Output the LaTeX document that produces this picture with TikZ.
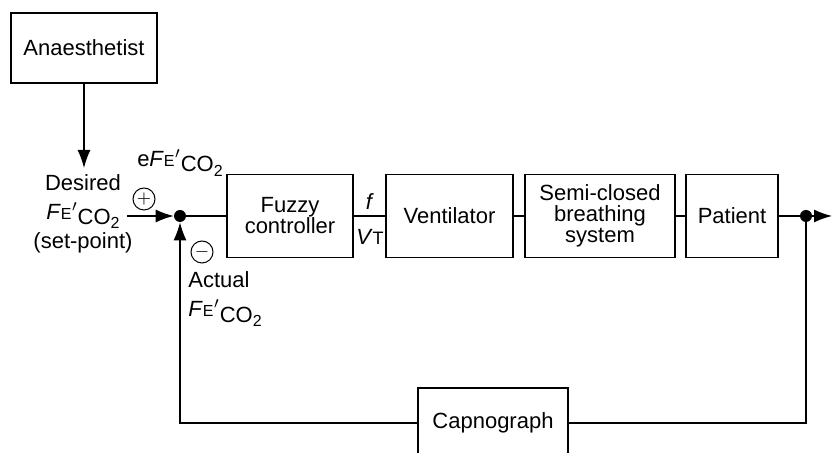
\documentclass[tikz,border=0pt]{standalone}
\usepackage{fontspec}
\setmainfont{Liberation Sans}
\usetikzlibrary{arrows.meta,positioning}
\newcommand{\FEco}{\textit{F}{\footnotesize E}\kern0.3pt$'$\raisebox{-0.45ex}{CO\raisebox{-0.35ex}{\footnotesize 2}}}

\begin{document}
\begin{tikzpicture}[
    x=0.5pt, y=-0.5pt,
    blk/.style={draw, line width=0.6pt, minimum height=41.5pt, align=center, inner sep=2pt, font=\fontsize{11}{10.5}\selectfont},
    arr/.style={-{Latex[length=9pt,width=6.5pt]}, line width=0.6pt},
    ln/.style={line width=0.6pt},
    sgn/.style={circle, draw, line width=0.5pt, minimum size=11pt, inner sep=0pt, font=\small},
    jdot/.style={circle, fill, minimum size=6pt, inner sep=0pt},
    lbl/.style={align=center, inner sep=1pt, font=\fontsize{11}{14.5}\selectfont}
]
    \clip (0,0) rectangle (832,453);
    \useasboundingbox (0,0) rectangle (832,453);
    \node[blk, minimum width=73pt, minimum height=35pt] (ana) at (84,48) {Anaesthetist};
    \node[lbl] (des) at (83,214) {Desired\\\FEco\\(set-point)};
    \node[jdot] (sum) at (180,216) {};
    \node[sgn] (plus) at (144,199) {$+$};
    \node[sgn] (minus) at (202,252) {$-$};
    \node[lbl] (err) at (180,163) {e\FEco};
    \node[blk, minimum width=63pt] (fuz) at (290,216) {Fuzzy\\controller};
    \node[blk, minimum width=63.5pt] (ven) at (449.5,216) {Ventilator};
    \node[blk, minimum width=75pt] (sem) at (600,216) {Semi-closed\\breathing\\system};
    \node[blk, minimum width=46pt] (pat) at (732,216) {Patient};
    \node[jdot] (tap) at (806,216) {};
    \node[blk, minimum width=75pt, minimum height=35pt] (cap) at (493,423) {Capnograph};
    \node[lbl] (frq) at (370,202) {\textit{f}};
    \node[lbl] (vt) at (370,237) {\textit{V}{\small T}};
    \node[lbl, align=left, anchor=west] (act) at (186,299) {Actual\\\FEco};
    \coordinate (set) at (84,168);
    \coordinate (din) at (127,216);
    \coordinate (out) at (832,216);
    \draw[arr] (ana) -- (set);
    \draw[arr] (din) -- (sum);
    \draw[ln] (sum) -- (fuz);
    \draw[ln] (fuz) -- (ven);
    \draw[ln] (ven) -- (sem);
    \draw[ln] (sem) -- (pat);
    \draw[ln] (pat) -- (tap);
    \draw[arr] (tap) -- (out);
    \draw[ln] (tap) |- (cap);
    \draw[arr] (cap) -| (sum);
\end{tikzpicture}
\end{document}
